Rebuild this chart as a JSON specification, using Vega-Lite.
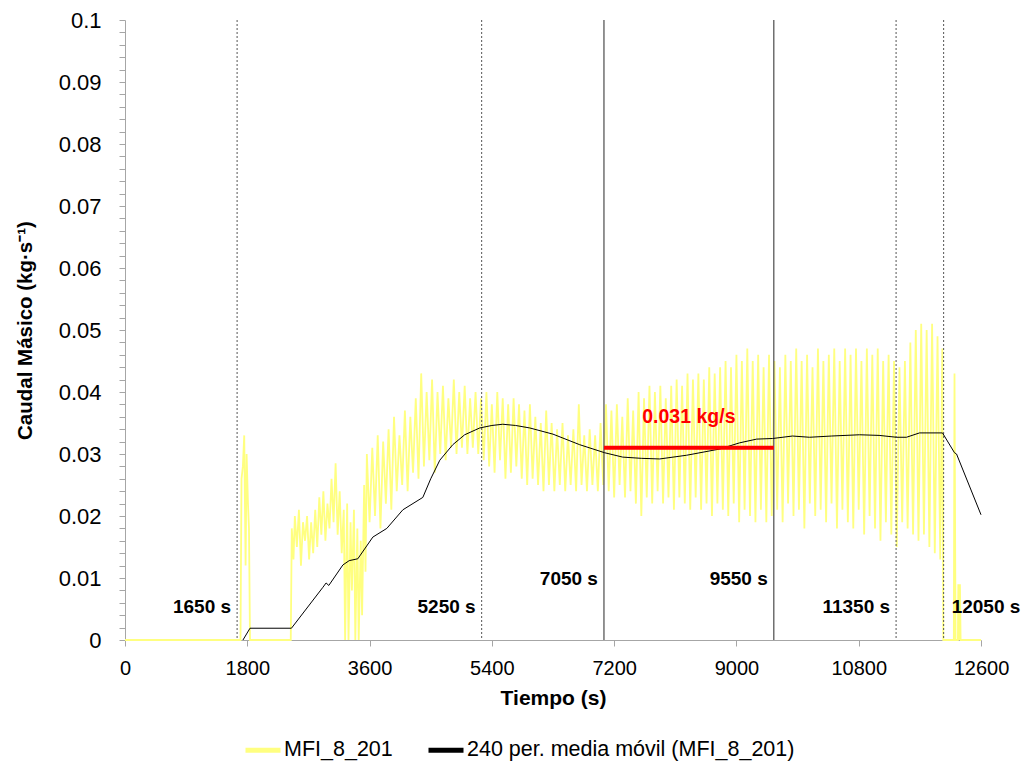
{
  "$schema": "https://vega.github.io/schema/vega-lite/v6.json",
  "width": 856,
  "height": 620,
  "autosize": "none",
  "padding": {"left": 125, "top": 20, "right": 48, "bottom": 129},
  "background": "white",
  "config": {
    "view": {"stroke": null},
    "font": "Liberation Sans",
    "axis": {"grid": false}
  },
  "datasets": {
    "mfi": [
      {"t": 0, "v": 0}, {"t": 1700, "v": 0},
      {"t": 1715, "v": 0.026}, {"t": 1735, "v": 0.028}, {"t": 1755, "v": 0.033}, {"t": 1775, "v": 0.012},
      {"t": 1790, "v": 0.03}, {"t": 1810, "v": 0.022}, {"t": 1825, "v": 0.018}, {"t": 1840, "v": 0},
      {"t": 2440, "v": 0}, {"t": 2455, "v": 0.018}, {"t": 2480, "v": 0.013}, {"t": 2500, "v": 0.02},
      {"t": 2530, "v": 0.015}, {"t": 2560, "v": 0.021}, {"t": 2590, "v": 0.012}, {"t": 2620, "v": 0.019},
      {"t": 2650, "v": 0.016}, {"t": 2680, "v": 0.02}, {"t": 2710, "v": 0.013}, {"t": 2740, "v": 0.019},
      {"t": 2770, "v": 0.014}, {"t": 2800, "v": 0.021}, {"t": 2830, "v": 0.015}, {"t": 2860, "v": 0.023},
      {"t": 2890, "v": 0.017}, {"t": 2920, "v": 0.024}, {"t": 2950, "v": 0.016}, {"t": 2980, "v": 0.022},
      {"t": 3010, "v": 0.018}, {"t": 3040, "v": 0.026}, {"t": 3070, "v": 0.019}, {"t": 3100, "v": 0.0285},
      {"t": 3130, "v": 0.017}, {"t": 3160, "v": 0.024}, {"t": 3190, "v": 0.014}, {"t": 3220, "v": 0.021},
      {"t": 3240, "v": 0}, {"t": 3270, "v": 0.022}, {"t": 3290, "v": 0}, {"t": 3320, "v": 0.019},
      {"t": 3340, "v": 0.008}, {"t": 3370, "v": 0.021}, {"t": 3390, "v": 0}, {"t": 3420, "v": 0.018},
      {"t": 3440, "v": 0}, {"t": 3470, "v": 0.016}, {"t": 3490, "v": 0.004}, {"t": 3520, "v": 0.025},
      {"t": 3540, "v": 0.011}, {"t": 3560, "v": 0.03}, {"t": 3600, "v": 0.019}, {"t": 3640, "v": 0.031},
      {"t": 3680, "v": 0.02}, {"t": 3720, "v": 0.033}, {"t": 3760, "v": 0.018}, {"t": 3800, "v": 0.032},
      {"t": 3840, "v": 0.022}, {"t": 3880, "v": 0.034}, {"t": 3920, "v": 0.021}, {"t": 3960, "v": 0.036},
      {"t": 4000, "v": 0.024}, {"t": 4040, "v": 0.033}, {"t": 4080, "v": 0.025}, {"t": 4120, "v": 0.037},
      {"t": 4160, "v": 0.024}, {"t": 4200, "v": 0.036}, {"t": 4240, "v": 0.027}, {"t": 4280, "v": 0.039},
      {"t": 4320, "v": 0.026}, {"t": 4360, "v": 0.043}, {"t": 4400, "v": 0.028}, {"t": 4440, "v": 0.04},
      {"t": 4480, "v": 0.029}, {"t": 4520, "v": 0.042}, {"t": 4560, "v": 0.027}, {"t": 4600, "v": 0.04},
      {"t": 4640, "v": 0.03}, {"t": 4680, "v": 0.041}, {"t": 4720, "v": 0.029}, {"t": 4760, "v": 0.039},
      {"t": 4800, "v": 0.031}, {"t": 4840, "v": 0.042}, {"t": 4880, "v": 0.03}, {"t": 4920, "v": 0.04},
      {"t": 4960, "v": 0.031}, {"t": 5000, "v": 0.041}, {"t": 5040, "v": 0.03}, {"t": 5080, "v": 0.039},
      {"t": 5120, "v": 0.031}, {"t": 5160, "v": 0.04}, {"t": 5200, "v": 0.03}, {"t": 5240, "v": 0.039},
      {"t": 5280, "v": 0.029}, {"t": 5320, "v": 0.04}, {"t": 5360, "v": 0.028}, {"t": 5400, "v": 0.038},
      {"t": 5440, "v": 0.027}, {"t": 5480, "v": 0.04}, {"t": 5520, "v": 0.029}, {"t": 5560, "v": 0.039},
      {"t": 5600, "v": 0.026}, {"t": 5640, "v": 0.038}, {"t": 5680, "v": 0.027}, {"t": 5720, "v": 0.039},
      {"t": 5760, "v": 0.028}, {"t": 5800, "v": 0.038}, {"t": 5840, "v": 0.026}, {"t": 5880, "v": 0.037},
      {"t": 5920, "v": 0.025}, {"t": 5960, "v": 0.038}, {"t": 6000, "v": 0.026}, {"t": 6040, "v": 0.036},
      {"t": 6080, "v": 0.025}, {"t": 6120, "v": 0.035}, {"t": 6160, "v": 0.024}, {"t": 6200, "v": 0.037},
      {"t": 6240, "v": 0.025}, {"t": 6280, "v": 0.035}, {"t": 6320, "v": 0.024}, {"t": 6360, "v": 0.034},
      {"t": 6400, "v": 0.025}, {"t": 6440, "v": 0.035}, {"t": 6480, "v": 0.024}, {"t": 6520, "v": 0.033},
      {"t": 6560, "v": 0.025}, {"t": 6600, "v": 0.034}, {"t": 6640, "v": 0.024}, {"t": 6680, "v": 0.038},
      {"t": 6720, "v": 0.025}, {"t": 6760, "v": 0.033}, {"t": 6800, "v": 0.024}, {"t": 6840, "v": 0.034},
      {"t": 6880, "v": 0.025}, {"t": 6920, "v": 0.033}, {"t": 6960, "v": 0.024}, {"t": 7000, "v": 0.035},
      {"t": 7040, "v": 0.025}, {"t": 7080, "v": 0.038}, {"t": 7120, "v": 0.024}, {"t": 7160, "v": 0.037},
      {"t": 7200, "v": 0.023}, {"t": 7240, "v": 0.038}, {"t": 7280, "v": 0.025}, {"t": 7320, "v": 0.036},
      {"t": 7360, "v": 0.023}, {"t": 7400, "v": 0.039}, {"t": 7440, "v": 0.024}, {"t": 7480, "v": 0.037},
      {"t": 7520, "v": 0.022}, {"t": 7560, "v": 0.04}, {"t": 7600, "v": 0.02}, {"t": 7640, "v": 0.039},
      {"t": 7680, "v": 0.023}, {"t": 7720, "v": 0.041}, {"t": 7760, "v": 0.022}, {"t": 7800, "v": 0.04},
      {"t": 7840, "v": 0.024}, {"t": 7880, "v": 0.041}, {"t": 7920, "v": 0.022}, {"t": 7960, "v": 0.039},
      {"t": 8000, "v": 0.023}, {"t": 8040, "v": 0.041}, {"t": 8080, "v": 0.021}, {"t": 8120, "v": 0.042},
      {"t": 8160, "v": 0.023}, {"t": 8200, "v": 0.041}, {"t": 8240, "v": 0.022}, {"t": 8280, "v": 0.043},
      {"t": 8320, "v": 0.021}, {"t": 8360, "v": 0.042}, {"t": 8400, "v": 0.023}, {"t": 8440, "v": 0.043},
      {"t": 8480, "v": 0.021}, {"t": 8520, "v": 0.042}, {"t": 8560, "v": 0.022}, {"t": 8600, "v": 0.044},
      {"t": 8640, "v": 0.02}, {"t": 8680, "v": 0.043}, {"t": 8720, "v": 0.022}, {"t": 8760, "v": 0.044},
      {"t": 8800, "v": 0.021}, {"t": 8840, "v": 0.045}, {"t": 8880, "v": 0.02}, {"t": 8920, "v": 0.044},
      {"t": 8960, "v": 0.022}, {"t": 9000, "v": 0.046}, {"t": 9040, "v": 0.019}, {"t": 9080, "v": 0.045},
      {"t": 9120, "v": 0.021}, {"t": 9160, "v": 0.047}, {"t": 9200, "v": 0.02}, {"t": 9240, "v": 0.045},
      {"t": 9280, "v": 0.019}, {"t": 9320, "v": 0.046}, {"t": 9360, "v": 0.021}, {"t": 9400, "v": 0.044},
      {"t": 9440, "v": 0.019}, {"t": 9480, "v": 0.046}, {"t": 9520, "v": 0.02}, {"t": 9560, "v": 0.045},
      {"t": 9600, "v": 0.021}, {"t": 9640, "v": 0.044}, {"t": 9680, "v": 0.019}, {"t": 9720, "v": 0.046},
      {"t": 9760, "v": 0.022}, {"t": 9800, "v": 0.045}, {"t": 9840, "v": 0.02}, {"t": 9880, "v": 0.047},
      {"t": 9920, "v": 0.021}, {"t": 9960, "v": 0.045}, {"t": 10000, "v": 0.018}, {"t": 10040, "v": 0.046},
      {"t": 10080, "v": 0.022}, {"t": 10120, "v": 0.044}, {"t": 10160, "v": 0.02}, {"t": 10200, "v": 0.047},
      {"t": 10240, "v": 0.021}, {"t": 10280, "v": 0.045}, {"t": 10320, "v": 0.019}, {"t": 10360, "v": 0.046},
      {"t": 10400, "v": 0.022}, {"t": 10440, "v": 0.047}, {"t": 10480, "v": 0.018}, {"t": 10520, "v": 0.045},
      {"t": 10560, "v": 0.021}, {"t": 10600, "v": 0.047}, {"t": 10640, "v": 0.019}, {"t": 10680, "v": 0.046},
      {"t": 10720, "v": 0.018}, {"t": 10760, "v": 0.047}, {"t": 10800, "v": 0.021}, {"t": 10840, "v": 0.045},
      {"t": 10880, "v": 0.017}, {"t": 10920, "v": 0.047}, {"t": 10960, "v": 0.02}, {"t": 11000, "v": 0.046},
      {"t": 11040, "v": 0.018}, {"t": 11080, "v": 0.047}, {"t": 11120, "v": 0.016}, {"t": 11160, "v": 0.045},
      {"t": 11200, "v": 0.019}, {"t": 11240, "v": 0.046}, {"t": 11280, "v": 0.017}, {"t": 11320, "v": 0.045},
      {"t": 11360, "v": 0.015}, {"t": 11400, "v": 0.044}, {"t": 11440, "v": 0.019}, {"t": 11480, "v": 0.045},
      {"t": 11520, "v": 0.018}, {"t": 11560, "v": 0.048}, {"t": 11600, "v": 0.017}, {"t": 11640, "v": 0.05},
      {"t": 11680, "v": 0.016}, {"t": 11720, "v": 0.051}, {"t": 11760, "v": 0.017}, {"t": 11800, "v": 0.05},
      {"t": 11840, "v": 0.015}, {"t": 11880, "v": 0.051}, {"t": 11920, "v": 0.014}, {"t": 11960, "v": 0.049},
      {"t": 12000, "v": 0.013}, {"t": 12030, "v": 0.047}, {"t": 12045, "v": 0}, {"t": 12200, "v": 0},
      {"t": 12210, "v": 0.043}, {"t": 12225, "v": 0}, {"t": 12260, "v": 0}, {"t": 12266, "v": 0.009},
      {"t": 12278, "v": 0}, {"t": 12290, "v": 0.009}, {"t": 12300, "v": 0}, {"t": 12600, "v": 0}
    ],
    "media": [
      {"t": 1736, "v": 0}, {"t": 1840, "v": 0.0019}, {"t": 2450, "v": 0.0019}, {"t": 2913, "v": 0.0085},
      {"t": 2960, "v": 0.0092}, {"t": 3000, "v": 0.0088}, {"t": 3207, "v": 0.0121}, {"t": 3300, "v": 0.0128},
      {"t": 3427, "v": 0.0131}, {"t": 3648, "v": 0.0166}, {"t": 3854, "v": 0.018}, {"t": 4090, "v": 0.021},
      {"t": 4384, "v": 0.023}, {"t": 4500, "v": 0.026}, {"t": 4634, "v": 0.029}, {"t": 4825, "v": 0.0315},
      {"t": 5000, "v": 0.0331}, {"t": 5222, "v": 0.0342}, {"t": 5400, "v": 0.0346}, {"t": 5560, "v": 0.0348},
      {"t": 5750, "v": 0.0346}, {"t": 5958, "v": 0.0342}, {"t": 6300, "v": 0.0332}, {"t": 6693, "v": 0.0315},
      {"t": 7061, "v": 0.0302}, {"t": 7326, "v": 0.0295}, {"t": 7600, "v": 0.0293}, {"t": 7870, "v": 0.0292},
      {"t": 8267, "v": 0.0298}, {"t": 8753, "v": 0.0308}, {"t": 9047, "v": 0.0318}, {"t": 9297, "v": 0.0324},
      {"t": 9532, "v": 0.0325}, {"t": 9826, "v": 0.0329}, {"t": 10076, "v": 0.0327}, {"t": 10400, "v": 0.0329},
      {"t": 10812, "v": 0.0331}, {"t": 11100, "v": 0.033}, {"t": 11356, "v": 0.0327}, {"t": 11503, "v": 0.0327},
      {"t": 11695, "v": 0.0334}, {"t": 12033, "v": 0.0334}, {"t": 12210, "v": 0.0302}, {"t": 12240, "v": 0.03},
      {"t": 12600, "v": 0.0202}
    ],
    "eventos": [
      {"t": 1650, "etiqueta": "1650 s"},
      {"t": 5250, "etiqueta": "5250 s"},
      {"t": 7050, "etiqueta": "7050 s"},
      {"t": 9550, "etiqueta": "9550 s"},
      {"t": 11350, "etiqueta": "11350 s"},
      {"t": 12050, "etiqueta": "12050 s"}
    ],
    "promedio": [
      {"inicio": 7050, "fin": 9550, "v": 0.031, "etiqueta": "0.031 kg/s"}
    ]
  },
  "layer": [
    {
      "data": {"name": "mfi"},
      "mark": {"type": "line", "strokeWidth": 1.8},
      "encoding": {
        "x": {
          "field": "t", "type": "quantitative",
          "scale": {"domain": [0, 12600], "nice": false, "zero": false},
          "axis": {
            "values": [0, 1800, 3600, 5400, 7200, 9000, 10800, 12600],
            "format": "d",
            "title": "Tiempo (s)",
            "titleFontSize": 21, "titleFontWeight": "bold", "titleColor": "black",
            "titleFont": "Liberation Sans",
            "titleY": 58, "titleBaseline": "middle",
            "labelFontSize": 20, "labelColor": "black", "labelFont": "Liberation Sans",
            "labelPadding": 12, "tickSize": 6,
            "domainColor": "#a6a6a6", "tickColor": "#a6a6a6",
            "labelFlush": false, "labelOverlap": false
          }
        },
        "y": {
          "field": "v", "type": "quantitative",
          "scale": {"domain": [0, 0.1], "nice": false},
          "axis": {
            "values": [0, 0.002, 0.004, 0.006, 0.008, 0.01, 0.012, 0.014, 0.016, 0.018, 0.02, 0.022, 0.024, 0.026, 0.028, 0.03, 0.032, 0.034, 0.036, 0.038, 0.04, 0.042, 0.044, 0.046, 0.048, 0.05, 0.052, 0.054, 0.056, 0.058, 0.06, 0.062, 0.064, 0.066, 0.068, 0.07, 0.072, 0.074, 0.076, 0.078, 0.08, 0.082, 0.084, 0.086, 0.088, 0.09, 0.092, 0.094, 0.096, 0.098, 0.1],
            "tickCount": 60,
            "labelExpr": "abs(datum.value * 100 - round(datum.value * 100)) < 0.001 ? format(datum.value, '~g') : ''",
            "title": "Caudal Másico (kg·s⁻¹)",
            "titleFontSize": 20.5, "titleFontWeight": "bold", "titleColor": "black",
            "titleFont": "Liberation Sans",
            "titleX": -100, "titleY": 310, "titleAngle": 270,
            "titleAlign": "center", "titleBaseline": "middle",
            "labelFontSize": 22, "labelColor": "black", "labelFont": "Liberation Sans",
            "labelPadding": 18, "tickSize": 6,
            "domainColor": "#a6a6a6", "tickColor": "#a6a6a6",
            "labelFlush": false, "labelOverlap": false
          }
        },
        "color": {
          "datum": "MFI_8_201",
          "type": "nominal",
          "scale": {
            "domain": ["MFI_8_201", "240 per. media móvil (MFI_8_201)"],
            "range": ["#ffff80", "#000000"]
          },
          "legend": {
            "title": null,
            "orient": "none",
            "direction": "horizontal",
            "legendX": 118,
            "legendY": 710,
            "symbolType": "stroke",
            "symbolSize": 1225,
            "symbolStrokeWidth": 5,
            "labelFontSize": 21.5,
            "labelFont": "Liberation Sans",
            "labelColor": "black",
            "labelOffset": 1,
            "columnPadding": 25,
            "labelLimit": 500
          }
        }
      }
    },
    {
      "data": {"name": "eventos"},
      "transform": [{"filter": {"field": "t", "oneOf": [1650, 5250, 11350, 12050]}}],
      "mark": {"type": "rule", "color": "#555555", "strokeWidth": 1, "strokeDash": [2, 2]},
      "encoding": {"x": {"field": "t", "type": "quantitative"}}
    },
    {
      "data": {"name": "eventos"},
      "transform": [{"filter": {"field": "t", "oneOf": [7050, 9550]}}],
      "mark": {"type": "rule", "color": "#595959", "strokeWidth": 1.3},
      "encoding": {"x": {"field": "t", "type": "quantitative"}}
    },
    {
      "data": {"name": "media"},
      "mark": {"type": "line", "strokeWidth": 1},
      "encoding": {
        "x": {"field": "t", "type": "quantitative"},
        "y": {"field": "v", "type": "quantitative"},
        "color": {"datum": "240 per. media móvil (MFI_8_201)", "type": "nominal"}
      }
    },
    {
      "data": {"name": "promedio"},
      "mark": {"type": "rule", "color": "#ff0000", "strokeWidth": 4},
      "encoding": {
        "x": {"field": "inicio", "type": "quantitative"},
        "x2": {"field": "fin"},
        "y": {"field": "v", "type": "quantitative"}
      }
    },
    {
      "data": {"name": "promedio"},
      "mark": {"type": "text", "color": "#ff0000", "fontWeight": "bold", "fontSize": 19.5, "font": "Liberation Sans", "dy": -31},
      "encoding": {
        "x": {"datum": 8300, "type": "quantitative"},
        "y": {"field": "v", "type": "quantitative"},
        "text": {"field": "etiqueta"}
      }
    },
    {
      "data": {"name": "eventos"},
      "transform": [{"filter": {"field": "t", "oneOf": [1650, 5250, 11350]}}],
      "mark": {"type": "text", "align": "right", "baseline": "middle", "dx": -6, "fontWeight": "bold", "fontSize": 19, "font": "Liberation Sans", "color": "black"},
      "encoding": {
        "x": {"field": "t", "type": "quantitative"},
        "y": {"datum": 0.0054, "type": "quantitative"},
        "text": {"field": "etiqueta"}
      }
    },
    {
      "data": {"name": "eventos"},
      "transform": [{"filter": {"field": "t", "oneOf": [7050, 9550]}}],
      "mark": {"type": "text", "align": "right", "baseline": "middle", "dx": -6, "fontWeight": "bold", "fontSize": 19, "font": "Liberation Sans", "color": "black"},
      "encoding": {
        "x": {"field": "t", "type": "quantitative"},
        "y": {"datum": 0.0099, "type": "quantitative"},
        "text": {"field": "etiqueta"}
      }
    },
    {
      "data": {"name": "eventos"},
      "transform": [{"filter": {"field": "t", "oneOf": [12050]}}],
      "mark": {"type": "text", "align": "left", "baseline": "middle", "dx": 8, "fontWeight": "bold", "fontSize": 19, "font": "Liberation Sans", "color": "black"},
      "encoding": {
        "x": {"field": "t", "type": "quantitative"},
        "y": {"datum": 0.0054, "type": "quantitative"},
        "text": {"field": "etiqueta"}
      }
    }
  ]
}
